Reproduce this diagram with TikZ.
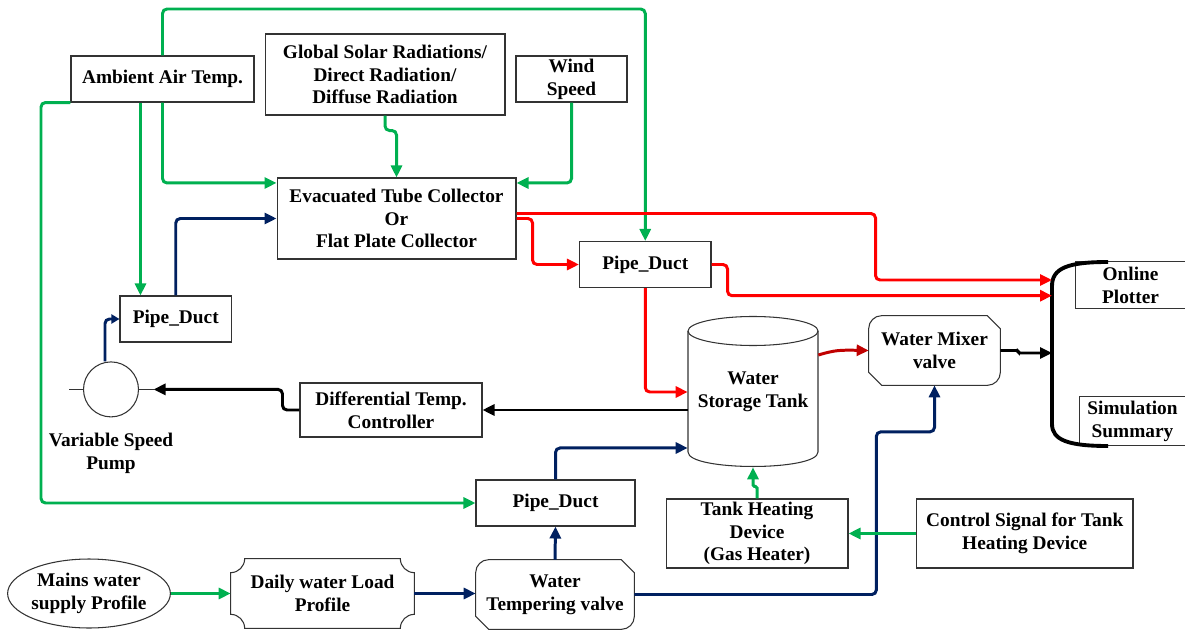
\documentclass[tikz,border=0pt]{standalone}
\usepackage{fontspec}
\setmainfont{Liberation Serif}
\usetikzlibrary{positioning, shapes.geometric, arrows.meta}
\definecolor{flowgreen}{RGB}{0,176,80}
\definecolor{flowblue}{RGB}{0,32,96}
\definecolor{flowred}{RGB}{255,0,0}
\definecolor{flowdarkred}{RGB}{192,0,0}
\tikzset{
  txt/.style={align=center, inner sep=0pt, font=\bfseries\fontsize{11}{13}\selectfont},
  blk/.style={txt, draw=black!80, semithick},
  edge/.style={draw=black!80, semithick},
  flow/.style={line width=1.7pt, rounded corners=0.09cm, -{Triangle[length=0.24cm,width=0.22cm]}},
  greenflow/.style={flow, draw=flowgreen},
  blueflow/.style={flow, draw=flowblue},
  redflow/.style={flow, draw=flowred},
  darkredflow/.style={flow, draw=flowdarkred},
  blackflow/.style={flow, draw=black},
}

\begin{document}
\begin{tikzpicture}[x=0.02cm, y=-0.02cm]
\useasboundingbox (0,0) rectangle (1185,631);

\node[blk, minimum width=3.66cm, minimum height=0.92cm] (amb) at (162.5,79) {Ambient Air Temp.};
\node[blk, minimum width=4.8cm, minimum height=1.62cm] (solar) at (385,74.5) {Global Solar Radiations/\\Direct Radiation/\\Diffuse Radiation};
\node[blk, minimum width=2.22cm, minimum height=0.92cm] (wind) at (571.5,79) {Wind\\Speed};
\node[blk, minimum width=4.78cm, minimum height=1.62cm] (etc) at (396.5,218.5) {Evacuated Tube Collector\\Or\\Flat Plate Collector};
\node[blk, minimum width=2.23cm, minimum height=0.92cm] (pd1) at (175.75,319) {Pipe\_Duct};
\node[blk, minimum width=2.63cm, minimum height=0.92cm] (pd2) at (645.25,264.5) {Pipe\_Duct};
\node[blk, minimum width=3.64cm, minimum height=1.08cm] (diff) at (391,410) {Differential Temp.\\Controller};
\node[blk, minimum width=3.18cm, minimum height=0.92cm] (pd3) at (555.5,503) {Pipe\_Duct};
\node[blk, minimum width=3.64cm, minimum height=1.38cm] (heat) at (757,533.5) {Tank Heating\\Device\\(Gas Heater)};
\node[blk, minimum width=4.33cm, minimum height=1.38cm] (ctrl) at (1024.75,533.5) {Control Signal for Tank\\Heating Device};
\node[blk, ellipse, minimum width=3.18cm, minimum height=1.38cm] (mains) at (89,593.5) {Mains water\\supply Profile};
\node[txt, minimum width=3.66cm, minimum height=1.38cm] (daily) at (322.5,593.5) {Daily water Load\\Profile};
\node[txt, minimum width=3.16cm, minimum height=1.38cm] (temper) at (555,594.5) {Water\\Tempering valve};
\node[txt, minimum width=2.62cm, minimum height=1.38cm] (mixer) at (934.5,350.5) {Water Mixer\\valve};
\node[txt, minimum width=2.6cm, minimum height=3cm] (tank) at (753,392) {Water\\Storage Tank};
\node[txt, minimum width=2.18cm, minimum height=0.92cm] (plot) at (1130.5,285) {Online\\Plotter};
\node[txt, minimum width=2.1cm, minimum height=0.96cm] (summ) at (1132.5,421) {Simulation\\Summary};
\node[edge, circle, minimum size=1.1cm, inner sep=0pt] (pump) at (111,389.4) {};
\node[txt, below=0.3cm of pump] (pumplbl) {Variable Speed\\Pump};

\draw[edge] (pump.west) -- ++(-13.5,0);
\draw[edge] (pump.east) -- ++(14.5,0) coordinate (pumpin);
\draw[edge] (688,331) -- (688,452) .. controls (688,471.3) and (818,471.3) .. (818,452) -- (818,331);
\draw[edge] (753,331) ellipse [x radius=65, y radius=14.5];
\foreach \v in {mixer,temper}
  \draw[edge] ([xshift=0.26cm]\v.north west) -- ([xshift=-0.26cm]\v.north east) -- ([yshift=-0.26cm]\v.north east) -- ([yshift=0.26cm]\v.south east) .. controls ([yshift=0.117cm]\v.south east) and ([xshift=-0.117cm]\v.south east) .. ([xshift=-0.26cm]\v.south east) -- ([xshift=0.26cm]\v.south west) -- ([yshift=0.26cm]\v.south west) -- ([yshift=-0.26cm]\v.north west) .. controls ([yshift=-0.117cm]\v.north west) and ([xshift=0.117cm]\v.north west) .. ([xshift=0.26cm]\v.north west) -- cycle;
\draw[edge] ([xshift=0.28cm]daily.north west) -- ([xshift=-0.28cm]daily.north east) .. controls ([xshift=-0.28cm,yshift=-0.155cm]daily.north east) and ([xshift=-0.155cm,yshift=-0.28cm]daily.north east) .. ([yshift=-0.28cm]daily.north east) -- ([yshift=0.28cm]daily.south east) .. controls ([xshift=-0.155cm,yshift=0.28cm]daily.south east) and ([xshift=-0.28cm,yshift=0.155cm]daily.south east) .. ([xshift=-0.28cm]daily.south east) -- ([xshift=0.28cm]daily.south west) .. controls ([xshift=0.28cm,yshift=0.155cm]daily.south west) and ([xshift=0.155cm,yshift=0.28cm]daily.south west) .. ([yshift=0.28cm]daily.south west) -- ([yshift=-0.28cm]daily.north west) .. controls ([xshift=0.155cm,yshift=-0.28cm]daily.north west) and ([xshift=0.28cm,yshift=-0.155cm]daily.north west) .. ([xshift=0.28cm]daily.north west) -- cycle;
\draw[edge] (plot.north east) -- (plot.north west) -- (plot.south west) -- (plot.south east);
\draw[edge] (summ.north east) -- (summ.north west) -- (summ.south west) -- (summ.south east);
\draw[line width=2.2pt] (1108,262) .. controls (1068,262) and (1052,268) .. (1052,286) -- (1052,424) .. controls (1052,440) and (1068,446) .. (1108,446);

\coordinate (topline) at (400,9);
\coordinate (leftline) at (41,300);
\coordinate (in1) at (1052,280);
\coordinate (in2) at (1052,295.7);
\coordinate (in3) at (1052,353);

\draw[greenflow] (amb.north) |- (topline) -| (pd2.north);
\draw[greenflow] (amb.south west) -| (leftline) |- (pd3.west);
\draw[greenflow] ([xshift=0.42cm]pd1.north west |- amb.south) -- ([xshift=0.42cm]pd1.north west);
\draw[greenflow] (amb.south) |- ([yshift=-0.11cm]etc.north west);
\draw[greenflow] (solar.south) -- ++(0,15) -| (etc.north);
\draw[greenflow] (wind.south) |- ([yshift=-0.11cm]etc.north east);
\draw[blueflow] (pd1.north) |- (etc.west);
\draw[redflow] ([yshift=0.1cm]etc.east) -- ++(359,0) |- (in1);
\draw[redflow] (etc.east) -- ++(16,0) |- (pd2.west);
\draw[redflow] (pd2.east) -- ++(16,0) |- (in2);
\draw[redflow] (pd2.south) |- (tank.west);
\draw[darkredflow, rounded corners=0] ([yshift=0.74cm]tank.east) .. controls (835,350) and (840,350) .. (mixer.west);
\draw[blackflow, rounded corners=0.03cm] (mixer.east) -- ++(18,0) |- (in3);
\draw[blackflow] (tank.west |- diff.east) -- (diff.east);
\draw[blackflow] (diff.west) -- ++(-17,0) |- (pumpin);
\draw[blueflow, -{Triangle[length=0.16cm,width=0.18cm]}] ([xshift=-0.12cm]pump.north) |- (pd1.west);
\draw[blueflow] (pd3.north) |- ([yshift=-1.12cm]tank.west);
\draw[blueflow] (temper.north) -- (pd3.south);
\draw[blueflow] (temper.east) -- ++(242,0) |- ([yshift=-0.93cm]mixer.south) -- (mixer.south);
\draw[blueflow] (daily.east) -- (daily.east -| temper.west);
\draw[greenflow] (mains.east) -- (daily.west);
\draw[greenflow, rounded corners=0.03cm] (heat.north) -- ++(0,-12) -| (tank.south);
\draw[greenflow] (ctrl.west) -- (heat.east);

\end{tikzpicture}
\end{document}
